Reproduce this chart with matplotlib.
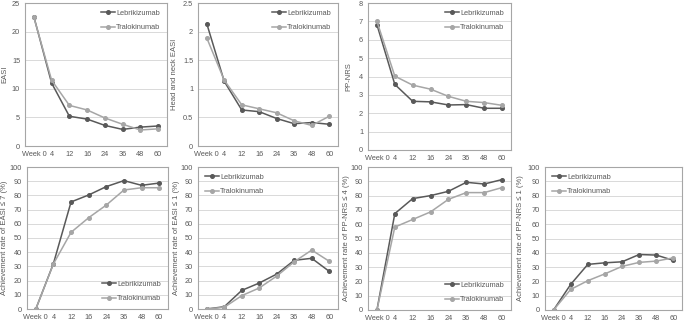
import matplotlib
matplotlib.use("Agg")
import matplotlib.pyplot as plt

plt.rcParams['font.family'] = ['Liberation Sans', 'DejaVu Sans']

weeks = ["Week 0", "4", "12", "16", "24", "36", "48", "60"]

easi_lebri = [22.6, 11.0, 5.2, 4.7, 3.6, 2.9, 3.3, 3.5]
easi_tralo = [22.5, 11.5, 7.1, 6.3, 4.9, 3.8, 2.8, 3.0]

hn_lebri = [2.14, 1.13, 0.63, 0.60, 0.48, 0.39, 0.41, 0.38]
hn_tralo = [1.89, 1.15, 0.72, 0.65, 0.58, 0.44, 0.36, 0.52]

nrs_lebri = [6.82, 3.57, 2.65, 2.62, 2.45, 2.47, 2.27, 2.27]
nrs_tralo = [7.0, 4.02, 3.53, 3.31, 2.92, 2.65, 2.58, 2.43]

easi7_lebri = [0, 32.0, 75.4, 80.3, 86.2, 90.4, 87.1, 88.7]
easi7_tralo = [0, 31.8, 54.0, 64.3, 73.2, 83.8, 85.4, 85.4]

easi1_lebri = [0, 1.6, 13.1, 18.3, 24.6, 34.3, 35.7, 26.5]
easi1_tralo = [0, 1.2, 9.4, 14.8, 23.2, 33.3, 41.5, 33.6]

nrs4_lebri = [0, 67.4, 77.9, 80.0, 83.0, 89.3, 88.1, 91.2]
nrs4_tralo = [0, 58.0, 63.3, 68.6, 77.4, 82.1, 82.1, 85.6]

nrs1_lebri = [0, 17.9, 31.9, 33.0, 33.7, 38.8, 38.4, 34.7]
nrs1_tralo = [0, 14.4, 20.5, 25.3, 30.5, 33.3, 34.2, 36.5]

W, H = 685, 322
fig = plt.figure(figsize=(W / 100, H / 100), dpi=100)


def panel(box, label_x, lebri, tralo, ylabel, ymax, ystep, legend_loc):
    l, t, r, b = box
    ax = fig.add_axes([l / W, 1 - b / H, (r - l) / W, (b - t) / H])
    x = range(len(weeks))
    ax.plot(x, lebri, color='#595959', marker='o', markersize=2.6, lw=1.1, label='Lebrikizumab')
    ax.plot(x, tralo, color='#a6a6a6', marker='o', markersize=2.6, lw=1.1, label='Tralokinumab')
    ax.set_xlim(-0.5, len(weeks) - 0.5)
    ax.set_ylim(0, ymax)
    ticks = [i * ystep for i in range(int(round(ymax / ystep)) + 1)]
    ax.set_yticks(ticks)
    ax.set_yticklabels([('%g' % v) for v in ticks])
    ax.set_xticks(list(x))
    ax.set_xticklabels(weeks)
    ax.tick_params(length=0, labelsize=5.3, colors='#595959', pad=3.5)
    ax.grid(axis='y', color='#d9d9d9', lw=0.7)
    ax.set_axisbelow(True)
    for s in ax.spines.values():
        s.set_color('#a6a6a6')
        s.set_linewidth(0.8)
    ax.set_ylabel(ylabel, fontsize=5.5, color='#595959', va='center')
    ax.yaxis.set_label_coords((label_x - l) / (r - l), 0.5)
    ax.legend(loc=legend_loc, frameon=False, fontsize=5.3, labelcolor='#595959',
              handlelength=2.0, handletextpad=0.1, labelspacing=1.0)
    return ax


panel((25, 3, 167, 146), 5, easi_lebri, easi_tralo, 'EASI', 25, 5, 'upper right')
panel((198, 3, 338, 146), 175, hn_lebri, hn_tralo, 'Head and neck EASI', 2.5, 0.5, 'upper right')
panel((368, 3, 511, 150), 349, nrs_lebri, nrs_tralo, 'PP-NRS', 8, 1, 'upper right')
panel((27, 167, 168, 309), 5, easi7_lebri, easi7_tralo, 'Achievement rate of EASI ≤ 7 (%)', 100, 10, 'lower right')
panel((198, 167, 338, 309), 176, easi1_lebri, easi1_tralo, 'Achievement rate of EASI ≤ 1 (%)', 100, 10, 'upper left')
panel((368, 167, 511, 310), 347, nrs4_lebri, nrs4_tralo, 'Achievement rate of PP-NRS ≤ 4 (%)', 100, 10, 'lower right')
panel((545, 167, 682, 310), 520, nrs1_lebri, nrs1_tralo, 'Achievement rate of PP-NRS ≤ 1 (%)', 100, 10, 'upper left')

fig.savefig('out.png', dpi=100)
